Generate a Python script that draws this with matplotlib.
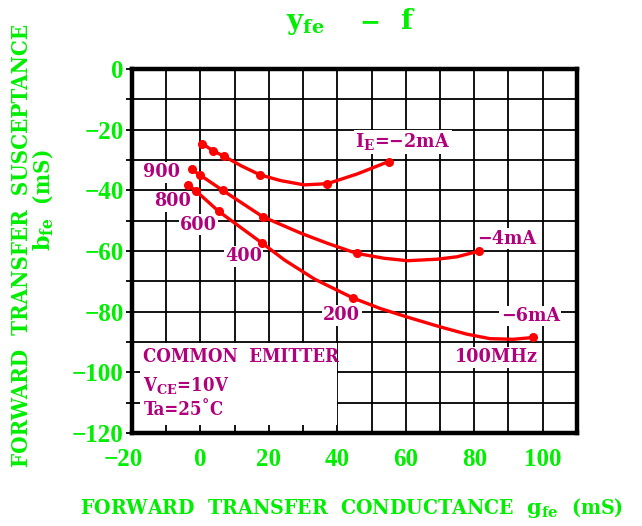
import matplotlib
matplotlib.use("Agg")
import matplotlib.pyplot as plt
from matplotlib.patches import Rectangle
from matplotlib.transforms import ScaledTranslation
import numpy as np

# Colores
VERDE = '#00ee00'
MORADO = '#b0007c'
ROJO = '#ff0000'

# Curvas (gfe, bfe) en mS
gfe_2mA = [0.6, 3.7, 6.8, 11.9, 17.4, 23.5, 30.3, 37.1, 45.8, 55.0]
bfe_2mA = [-24.6, -27.0, -28.7, -31.9, -34.9, -36.8, -38.2, -37.8, -34.6, -30.5]
gfe_4mA = [-2.6, -0.2, 6.5, 18.2, 29.5, 37.2, 45.7, 53.7, 60.5, 69.2, 75.0, 81.5]
bfe_4mA = [-33.1, -34.9, -40.0, -48.7, -54.2, -57.5, -60.8, -62.4, -63.2, -62.7, -61.9, -60.0]
gfe_6mA = [-3.7, -1.3, 5.3, 17.9, 24.6, 33.4, 44.6, 52.4, 60.2, 70.0, 77.8, 84.6, 91.4, 97.3]
bfe_6mA = [-38.1, -40.2, -46.9, -57.3, -63.0, -69.3, -75.5, -78.9, -81.7, -85.0, -87.4, -88.9, -89.1, -88.5]

# Puntos marcados (frecuencias 900, 800, 600, 400, 200, 100 MHz)
pts_gfe_2mA = [0.6, 3.7, 6.8, 17.4, 37.1, 55.0]
pts_bfe_2mA = [-24.6, -27.0, -28.7, -34.9, -37.8, -30.5]
pts_gfe_4mA = [-2.6, -0.2, 6.5, 18.2, 45.7, 81.5]
pts_bfe_4mA = [-33.1, -34.9, -40.0, -48.7, -60.8, -60.0]
pts_gfe_6mA = [-3.7, -1.3, 5.3, 17.9, 44.6, 97.3]
pts_bfe_6mA = [-38.1, -40.2, -46.9, -57.3, -75.5, -88.5]

xticks = [-20, 0, 20, 40, 60, 80, 100]
yticks = [0, -20, -40, -60, -80, -100, -120]

plt.rcParams['mathtext.fontset'] = 'custom'
plt.rcParams['mathtext.rm'] = 'DejaVu Serif:bold'
plt.rcParams['mathtext.bf'] = 'DejaVu Serif:bold'
plt.rcParams['mathtext.it'] = 'DejaVu Serif:bold'

fig = plt.figure(figsize=(6.42, 5.26), dpi=100)
ax = fig.add_axes([0.2056, 0.1768, 0.693, 0.692])
ax.set_xlim(-20, 110)
ax.set_ylim(-120, 0)

# Cuadricula cada 10
ax.set_xticks(np.arange(-20, 111, 10), minor=True)
ax.set_yticks(np.arange(-120, 1, 10), minor=True)
ax.set_xticks(xticks)
ax.set_yticks(yticks)
ax.set_xticklabels(['\u2212' + str(-t) if t < 0 else str(t) for t in xticks])
ax.set_yticklabels(['\u2212' + str(-t) if t < 0 else str(t) for t in yticks])
ax.grid(True, which='both', color='black', linewidth=1.3)
ax.set_axisbelow(True)
for s in ax.spines.values():
    s.set_linewidth(3.2)
    s.set_zorder(10)

ax.tick_params(axis='x', which='both', length=0, pad=11, labelcolor=VERDE)
ax.tick_params(axis='y', which='both', length=4, width=1.3, direction='out', pad=2, labelcolor=VERDE)
for lab in ax.get_xticklabels() + ax.get_yticklabels():
    lab.set_fontfamily('Liberation Serif')
    lab.set_fontweight('bold')
    lab.set_fontsize(18)
# el -20 del eje x va un poco a la izquierda
lab0 = ax.get_xticklabels()[0]
lab0.set_transform(lab0.get_transform() + ScaledTranslation(-0.09, 0, fig.dpi_scale_trans))

# Recuadro blanco de condiciones
ax.add_patch(Rectangle((-17.6, -117.4), 57.4, 27.2, facecolor='white', edgecolor='none', zorder=1))

# Curvas
for g, b, pg, pb in [(gfe_2mA, bfe_2mA, pts_gfe_2mA, pts_bfe_2mA),
                     (gfe_4mA, bfe_4mA, pts_gfe_4mA, pts_bfe_4mA),
                     (gfe_6mA, bfe_6mA, pts_gfe_6mA, pts_bfe_6mA)]:
    ax.plot(g, b, '-', color=ROJO, lw=2.4, solid_joinstyle='round', solid_capstyle='round', zorder=5)
    ax.plot(pg, pb, 'o', color=ROJO, ms=5.5, zorder=6)

# Etiquetas moradas
fnt = dict(family='DejaVu Serif', stretch='condensed', weight='bold', color=MORADO, fontsize=14)
caja = dict(facecolor='white', edgecolor='none', pad=1.0)
ax.text(45.2, -24.0, 'I$_{\\mathrm{E}}$=\u22122mA', ha='left', va='center', bbox=caja, zorder=4, **fnt)
ax.text(-5.9, -34.1, '900', ha='right', va='center', bbox=caja, zorder=4, **fnt)
ax.text(-2.7, -43.6, '800', ha='right', va='center', bbox=caja, zorder=4, **fnt)
ax.text(4.8, -51.3, '600', ha='right', va='center', bbox=caja, zorder=4, **fnt)
ax.text(12.6, -61.7, '400', ha='center', va='center', bbox=caja, zorder=4, **fnt)
ax.text(41.3, -81.2, '200', ha='center', va='center', bbox=caja, zorder=4, **fnt)
ax.text(89.4, -55.9, '\u22124mA', ha='center', va='center', bbox=caja, zorder=4, **fnt)
ax.text(96.4, -81.4, '\u22126mA', ha='center', va='center', bbox=caja, zorder=4, **fnt)
ax.text(86.6, -95.1, '100MHz', ha='center', va='center', bbox=caja, zorder=4, **fnt)
fnt['fontsize'] = 13.3
ax.text(-16.7, -95.1, 'COMMON  EMITTER', ha='left', va='center', zorder=4, **fnt)
ax.text(-16.7, -104.3, 'V$_{\\mathrm{CE}}$=10V', ha='left', va='center', zorder=4, **fnt)
ax.text(-16.7, -112.3, 'Ta=25\u02daC', ha='left', va='center', zorder=4, **fnt)

# Titulo y ejes
tfnt = dict(family='DejaVu Serif', weight='bold', color=VERDE)
fig.text(0.476, 0.955, '$\\mathrm{y_{fe}}$', ha='center', va='center', fontsize=20, **tfnt)
fig.text(0.576, 0.957, '\u2212', ha='center', va='center', fontsize=18, **tfnt)
fig.text(0.632, 0.960, 'f', ha='center', va='center', fontsize=20, **tfnt)

lfnt = dict(family='DejaVu Serif', stretch='condensed', weight='bold', color=VERDE, fontsize=15.2)
fig.text(0.547, 0.034, 'FORWARD  TRANSFER  CONDUCTANCE  $\\mathrm{g_{fe}}$  (mS)', ha='center', va='center', **lfnt)
lfnt['fontsize'] = 16
fig.text(0.034, 0.534, 'FORWARD  TRANSFER  SUSCEPTANCE', ha='center', va='center', rotation=90, **lfnt)
fig.text(0.068, 0.62, '$\\mathrm{b_{fe}}$  (mS)', ha='center', va='center', rotation=90, **lfnt)

fig.savefig('out.png')
